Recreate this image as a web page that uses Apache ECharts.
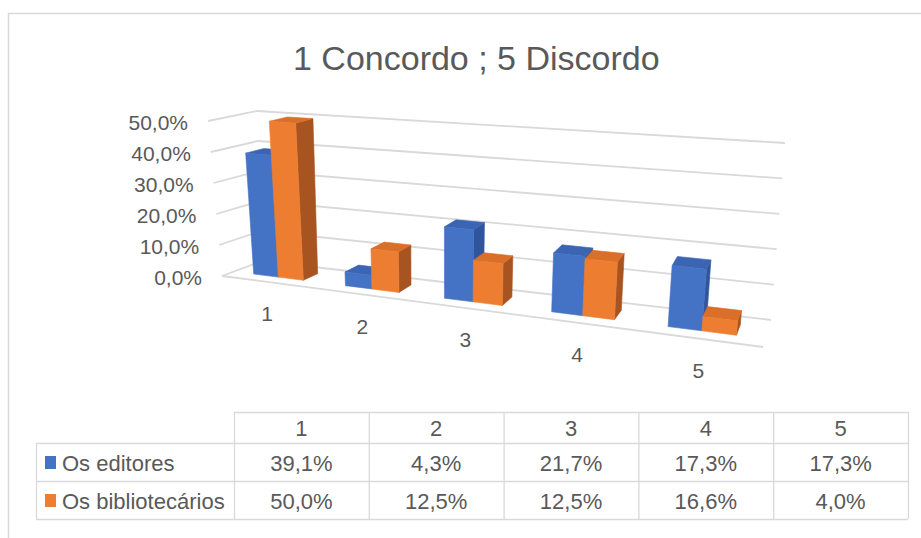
<!DOCTYPE html>
<html><head><meta charset="utf-8">
<script src="https://cdn.jsdelivr.net/npm/echarts/dist/echarts.min.js"></script>
<style>html,body{margin:0;padding:0;background:#fff}#c{width:921px;height:538px}</style>
</head><body><div id="c"></div>
<script>
// ---------- data ----------
const titleText = '1 Concordo ; 5 Discordo';
const categories = ['1', '2', '3', '4', '5'];
const seriesNames = ['Os editores', 'Os bibliotecários'];
const editores = [0.391, 0.043, 0.217, 0.173, 0.173];
const bibliotecarios = [0.500, 0.125, 0.125, 0.166, 0.040];
const yTicks = [0, 0.1, 0.2, 0.3, 0.4, 0.5];

// ---------- style / layout ----------
const FONT = '"Liberation Sans", Arial, sans-serif';
const TXT = '#595959';
const GRID = '#D9D9D9';
const palette = [
  { front: '#4472C4', side: '#2F569C', top: '#3B65B3' },
  { front: '#ED7D31', side: '#A85421', top: '#D96F28' }
];
// screen corners of the 3D box (front/back, bottom/top, left/right)
const K = { F0L: [222, 276], F0R: [763, 347], B0L: [262, 261], B0R: [771, 320],
            F1L: [208, 121], F1R: [781, 164], B1L: [257, 111], B1R: [785, 143] };
const PERSP = 0.818;
const BAR_FRAC = 0.275, W0 = 0.3, W1 = 0.7;

function lerp(a, b, t) { return [a[0] + (b[0] - a[0]) * t, a[1] + (b[1] - a[1]) * t]; }
function warp(u) { return PERSP * u / (1 + (PERSP - 1) * u); }
function P(u, v, w) {
  const uu = warp(u);
  const bf = lerp(K.F0L, K.F0R, uu), bb = lerp(K.B0L, K.B0R, uu);
  const tf = lerp(K.F1L, K.F1R, uu), tb = lerp(K.B1L, K.B1R, uu);
  return lerp(lerp(bf, bb, w), lerp(tf, tb, w), v);
}
function nu(cs, x) { return (x - cs.x) / cs.width; }
function nv(cs, y) { return (cs.y + cs.height - y) / cs.height; }
function pct(v) { return (v * 100).toFixed(1).replace('.', ',') + '%'; }

// ---------- series data built from the arrays ----------
const barData = [];
categories.forEach((c, i) => {
  barData.push([i, editores[i], 0]);
  barData.push([i, bibliotecarios[i], 1]);
});

function renderWalls(params, api) {
  const cs = params.coordSys;
  const t = api.value(1);
  const v = nv(cs, api.coord([0, t])[1]);
  const ln = (a, b) => ({ type: 'line', shape: { x1: a[0], y1: a[1], x2: b[0], y2: b[1] },
    style: { stroke: GRID, lineWidth: 1.8 } });
  const ch = [ln(P(0, v, 1), P(1, v, 1)), ln(P(0, v, 0), P(0, v, 1))];
  if (t === 0) ch.push(ln(P(0, 0, 0), P(1, 0, 0)));
  const lp = P(0, v, 0);
  ch.push({ type: 'text', x: lp[0] - 20, y: lp[1] + 1,
    style: { text: pct(t), fill: TXT, fontSize: 21, fontFamily: FONT, align: 'right', verticalAlign: 'middle' } });
  return { type: 'group', children: ch };
}

function renderCatLabels(params, api) {
  const cs = params.coordSys;
  const i = api.value(0);
  const u = nu(cs, api.coord([i, 0])[0]);
  const p = P(u, 0, 0);
  return { type: 'text', x: p[0], y: p[1] + 32,
    style: { text: categories[i], fill: TXT, fontSize: 21, fontFamily: FONT, align: 'center', verticalAlign: 'middle' } };
}

function renderBar(params, api) {
  const cs = params.coordSys;
  const ci = api.value(0), val = api.value(1), si = api.value(2);
  const top = api.coord([ci, val]), base = api.coord([ci, 0]);
  const band = api.size([1, 0])[0] / cs.width;
  const uc = nu(cs, top[0]);
  const bw = band * BAR_FRAC;
  const u0 = si === 0 ? uc - bw : uc, u1 = u0 + bw;
  const v0 = nv(cs, base[1]), v1 = nv(cs, top[1]);
  const col = palette[si];
  const poly = (pts, fill) => ({ type: 'polygon', shape: { points: pts },
    style: { fill: fill, stroke: fill, lineWidth: 0.6 } });
  return { type: 'group', children: [
    poly([P(u1, v0, W0), P(u1, v0, W1), P(u1, v1, W1), P(u1, v1, W0)], col.side),
    poly([P(u0, v1, W0), P(u1, v1, W0), P(u1, v1, W1), P(u0, v1, W1)], col.top),
    poly([P(u0, v0, W0), P(u1, v0, W0), P(u1, v1, W0), P(u0, v1, W0)], col.front)
  ] };
}

// ---------- data table (graphic) ----------
const T = { left: 36, hx: 234, right: 908, rows: [412, 443, 481, 519] };
const colW = (T.right - T.hx) / categories.length;
const g = [];
const hl = (x1, x2, y) => g.push({ type: 'line', shape: { x1: x1, y1: y + 0.5, x2: x2, y2: y + 0.5 }, style: { stroke: GRID, lineWidth: 1.3 } });
const vl = (x, y1, y2) => g.push({ type: 'line', shape: { x1: x + 0.5, y1: y1, x2: x + 0.5, y2: y2 }, style: { stroke: GRID, lineWidth: 1.3 } });
hl(T.hx, T.right, T.rows[0]);
for (let r = 1; r < T.rows.length; r++) hl(T.left, T.right, T.rows[r]);
vl(T.left, T.rows[1], T.rows[3]);
for (let c = 0; c <= categories.length; c++) vl(T.hx + c * colW, T.rows[0], T.rows[3]);
const cellText = (x, y, text, align) => g.push({ type: 'text', x: x, y: y,
  style: { text: text, fill: TXT, fontSize: 22, fontFamily: FONT, align: align || 'center', verticalAlign: 'middle' } });
categories.forEach((c, i) => cellText(T.hx + (i + 0.5) * colW, (T.rows[0] + T.rows[1]) / 2 + 1, c));
[editores, bibliotecarios].forEach((arr, s) => {
  const yc = (T.rows[s + 1] + T.rows[s + 2]) / 2 + 1;
  g.push({ type: 'rect', shape: { x: 45, y: yc - 7, width: 11, height: 13 }, style: { fill: palette[s].front } });
  cellText(62, yc, seriesNames[s], 'left');
  arr.forEach((v, i) => cellText(T.hx + (i + 0.5) * colW, yc, pct(v)));
});
// chart area border
g.push({ type: 'rect', shape: { x: 8.5, y: 13.5, width: 1000, height: 1000 }, style: { fill: 'none', stroke: GRID, lineWidth: 1.5 }, z: -10 });

const chart = echarts.init(document.getElementById('c'), null, { renderer: 'svg' });
chart.setOption({
  backgroundColor: '#fff',
  animation: false,
  title: { text: titleText, left: 288, top: 36,
    textStyle: { fontSize: 34, fontWeight: 'normal', color: TXT, fontFamily: FONT } },
  grid: { left: 100, top: 100, width: 500, height: 200 },
  xAxis: { type: 'category', data: categories, show: false },
  yAxis: { type: 'value', min: 0, max: 0.5, interval: 0.1, show: false },
  series: [
    { type: 'custom', name: 'walls', clip: false, z: 1, data: yTicks.map(t => [0, t]), renderItem: renderWalls, silent: true },
    { type: 'custom', name: 'labels', clip: false, z: 1, data: categories.map((c, i) => [i, 0]), renderItem: renderCatLabels, silent: true },
    { type: 'custom', name: 'bars', clip: false, z: 2, data: barData, renderItem: renderBar, encode: { x: 0, y: 1 } }
  ],
  graphic: g
});
</script>
</body></html>
